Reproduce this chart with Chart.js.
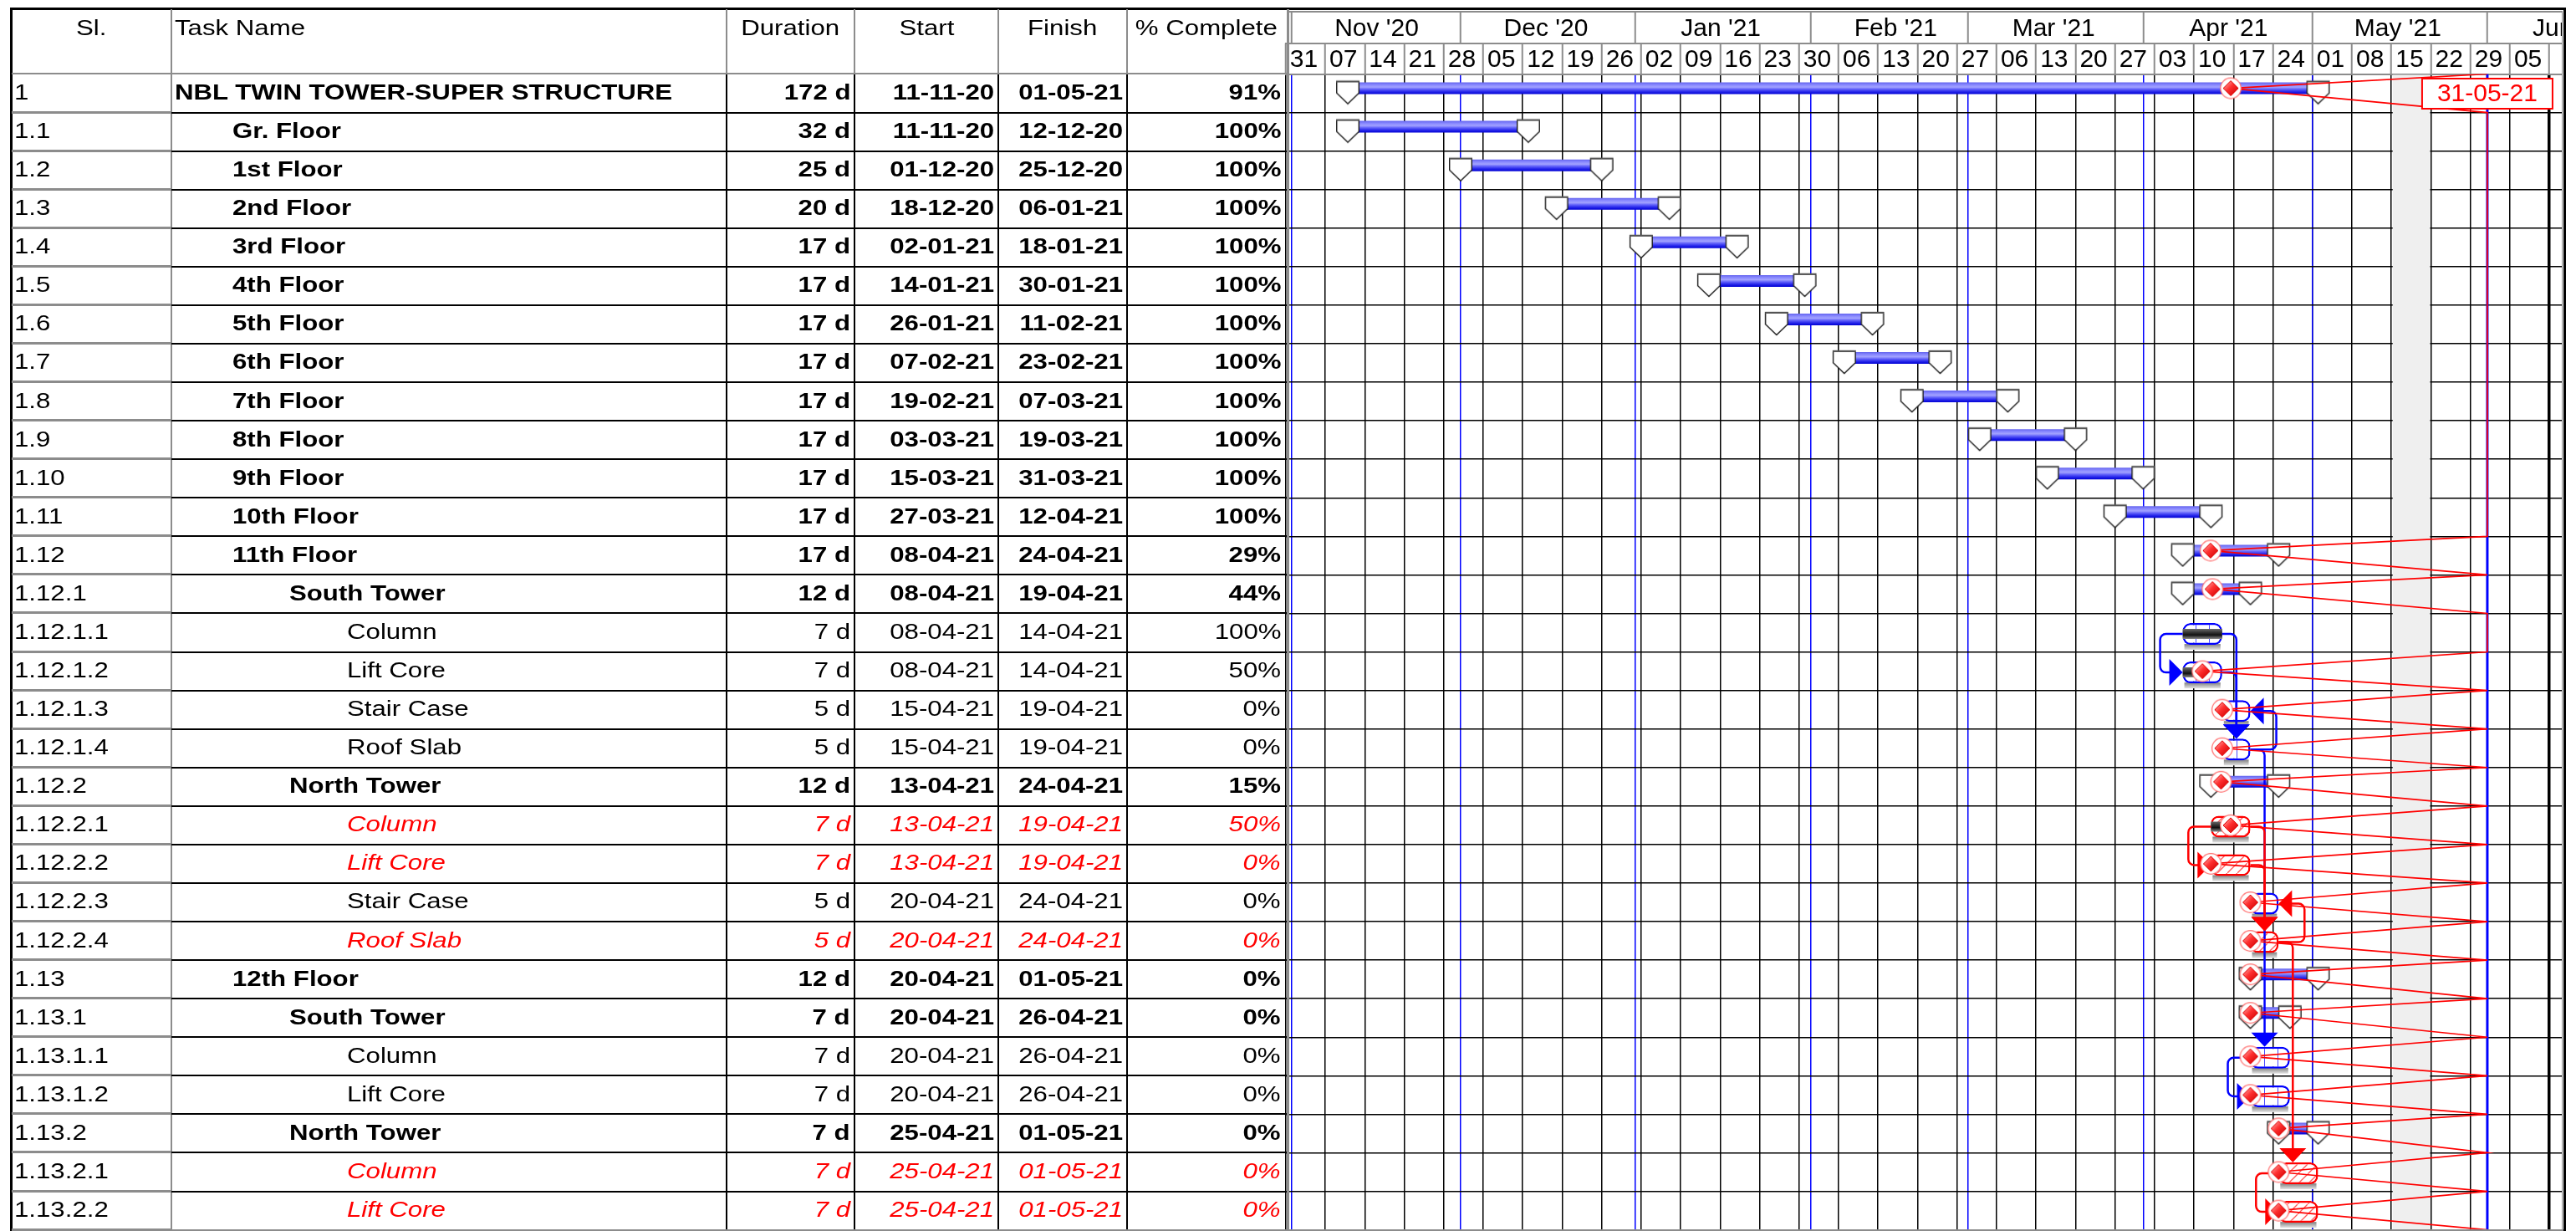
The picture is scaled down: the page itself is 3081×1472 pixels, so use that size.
<!DOCTYPE html>
<html>
<head>
<meta charset="utf-8">
<title>NBL Twin Tower - Super Structure</title>
<script src="https://cdn.jsdelivr.net/npm/chart.js@4.4.1/dist/chart.umd.min.js"></script>
<style>
  html, body { margin:0; padding:0; background:#fff; }
  body { width:3081px; height:1472px; position:relative; overflow:hidden; font-family:"Liberation Sans", Arial, sans-serif; }
  #gantt { position:absolute; left:0; top:0; }
</style>
</head>
<body>
<canvas id="gantt" width="3064" height="1472"></canvas>
<div id="sheet"></div>
<script>
// task sheet, as printed
var sl = ['1','1.1','1.2','1.3','1.4','1.5','1.6','1.7','1.8','1.9','1.10','1.11','1.12','1.12.1','1.12.1.1','1.12.1.2','1.12.1.3','1.12.1.4','1.12.2','1.12.2.1','1.12.2.2','1.12.2.3','1.12.2.4','1.13','1.13.1','1.13.1.1','1.13.1.2','1.13.2','1.13.2.1','1.13.2.2'];
var taskNames = ['NBL TWIN TOWER-SUPER STRUCTURE','Gr. Floor','1st Floor','2nd Floor','3rd Floor','4th Floor','5th Floor','6th Floor','7th Floor','8th Floor','9th Floor','10th Floor','11th Floor','South Tower','Column','Lift Core','Stair Case','Roof Slab','North Tower','Column','Lift Core','Stair Case','Roof Slab','12th Floor','South Tower','Column','Lift Core','North Tower','Column','Lift Core'];
var durations = ['172 d','32 d','25 d','20 d','17 d','17 d','17 d','17 d','17 d','17 d','17 d','17 d','17 d','12 d','7 d','7 d','5 d','5 d','12 d','7 d','7 d','5 d','5 d','12 d','7 d','7 d','7 d','7 d','7 d','7 d'];
var starts = ['11-11-20','11-11-20','01-12-20','18-12-20','02-01-21','14-01-21','26-01-21','07-02-21','19-02-21','03-03-21','15-03-21','27-03-21','08-04-21','08-04-21','08-04-21','08-04-21','15-04-21','15-04-21','13-04-21','13-04-21','13-04-21','20-04-21','20-04-21','20-04-21','20-04-21','20-04-21','20-04-21','25-04-21','25-04-21','25-04-21'];
var finishes = ['01-05-21','12-12-20','25-12-20','06-01-21','18-01-21','30-01-21','11-02-21','23-02-21','07-03-21','19-03-21','31-03-21','12-04-21','24-04-21','19-04-21','14-04-21','14-04-21','19-04-21','19-04-21','24-04-21','19-04-21','19-04-21','24-04-21','24-04-21','01-05-21','26-04-21','26-04-21','26-04-21','01-05-21','01-05-21','01-05-21'];
var pctComplete = [91,100,100,100,100,100,100,100,100,100,100,100,29,44,100,50,0,0,15,50,0,0,0,0,0,0,0,0,0,0];
var criticalTasks = ['1.12.2.1','1.12.2.2','1.12.2.4','1.13.2.1','1.13.2.2'];

// predecessor links: from, to, type
var links = [
  ['1.12.1.1','1.12.1.2','SS'],
  ['1.12.1.1','1.12.1.4','FS'],
  ['1.12.1.2','1.12.1.4','FS'],
  ['1.12.1.4','1.12.1.3','FF'],
  ['1.12.1.4','1.13.1.1','FS'],
  ['1.13.1.1','1.13.1.2','SS'],
  ['1.12.2.1','1.12.2.2','SS'],
  ['1.12.2.1','1.12.2.4','FS'],
  ['1.12.2.2','1.12.2.4','FS'],
  ['1.12.2.4','1.12.2.3','FF'],
  ['1.12.2.4','1.13.2.1','FS'],
  ['1.13.2.1','1.13.2.2','SS']
];

// timescale
var timelineStart = '31-10-20';
var weekLabels = ['31','07','14','21','28','05','12','19','26','02','09','16','23','30','06','13','20','27','06','13','20','27','03','10','17','24','01','08','15','22','29','05'];
var monthStarts = ['01-11-20','01-12-20','01-01-21','01-02-21','01-03-21','01-04-21','01-05-21','01-06-21'];
var monthLabels = ["Nov '20","Dec '20","Jan '21","Feb '21","Mar '21","Apr '21","May '21","Jun '21"];
var statusDate = '31-05-21';
var shadedWeek = ['15-05-21','22-05-21'];
var pageBreak = '12-06-21';
var viewDays = 226.2;

var ROW_TOP = 88.5, ROW_H = 46.07;
var SUM_SHIFT = -0.13, TASK_SHIFT = 0.033;
var N = sl.length;

function dayNo(s) {
  var p = s.split('-');
  var t0 = timelineStart.split('-');
  return (Date.UTC(2000 + +p[2], p[1] - 1, +p[0]) - Date.UTC(2000 + +t0[2], t0[1] - 1, +t0[0])) / 86400000;
}

var rows = sl.map(function (id, i) {
  var next = sl[i + 1] || '';
  var level = id.split('.').length - 1;
  return {
    i: i, id: id, level: level,
    // floors are rolled-up summaries, the rest are summaries when they have children
    summary: level <= 1 || next.indexOf(id + '.') === 0,
    critical: criticalTasks.indexOf(id) >= 0,
    s: dayNo(starts[i]),
    e: dayNo(finishes[i]) + 1,
    pct: pctComplete[i] / 100
  };
});
function rowOf(id) { return rows[sl.indexOf(id)]; }

var statusX = dayNo(statusDate) + 1;
var pageBreakX = dayNo(pageBreak);
var weekTicks = [];
for (var k = 0; k <= weekLabels.length; k++) weekTicks.push(k * 7);
var monthTicks = monthStarts.map(dayNo);

// ---------- sheet on the left ----------
var sheet = document.getElementById('sheet');
function put(css, text, origin) {
  var d = document.createElement('div');
  d.style.cssText = 'position:absolute;white-space:nowrap;' + css;
  if (text !== undefined) {
    var s = document.createElement('span');
    s.textContent = text;
    s.style.cssText = 'display:inline-block;transform:scaleX(1.2);transform-origin:' + (origin || 'left') + ' center';
    d.appendChild(s);
  }
  sheet.appendChild(d);
}
function rule(x, y, w, h, c) {
  put('left:' + x + 'px;top:' + y + 'px;width:' + w + 'px;height:' + h + 'px;background:' + c);
}

var colEdges = [14, 205, 869, 1022, 1194, 1348, 1538];
var heads = ['Sl.', 'Task Name', 'Duration', 'Start', 'Finish', '% Complete'];
heads.forEach(function (h, k) {
  var left = k === 1;
  put('left:' + (colEdges[k] + (left ? 4 : 0)) + 'px;top:11px;width:' + (colEdges[k + 1] - colEdges[k] - (left ? 4 : 0)) +
      'px;height:44px;line-height:44px;font-size:26px;color:#000;text-align:' + (left ? 'left' : 'center'), h, left ? 'left' : 'center');
});

var rights = [1017, 1189, 1343, 1532];
rows.forEach(function (r) {
  var base = 'top:' + (ROW_TOP + r.i * ROW_H - 1.5) + 'px;height:' + ROW_H + 'px;line-height:' + ROW_H + 'px;font-size:26px;';
  var look = (r.summary ? 'font-weight:bold;' : '') + (r.critical ? 'font-style:italic;color:#ff0000;' : 'color:#000;');
  put(base + 'left:17px;color:#000', r.id);
  put(base + look + 'left:' + (209 + r.level * 68.5) + 'px', taskNames[r.i]);
  [durations[r.i], starts[r.i], finishes[r.i], pctComplete[r.i] + '%'].forEach(function (v, k) {
    put(base + look + 'left:' + colEdges[k + 2] + 'px;width:' + (rights[k] - colEdges[k + 2]) + 'px;text-align:right', v, 'right');
  });
});

rule(12, 9, 3056.5, 2.5, '#000');
rule(12, 9, 2.5, 1463, '#000');
rule(3066, 9, 2.5, 1463, '#000');
rule(3063.5, 13.3, 1.5, 1459, '#8c8c8c');
rule(1539, 11, 2.5, 1461, '#8c8c8c');
rule(1541, 13.3, 1523, 2, '#8c8c8c');
rule(14, 87, 1525, 2, '#8c8c8c');
[205, 869, 1022, 1194, 1348].forEach(function (x, k) {
  rule(x - 1, 11, 2, 77, '#8c8c8c');
  if (k === 0) rule(x - 1, 89, 2, 1382, '#8c8c8c');
  else rule(x - 1, 89, 1.5, 1382, '#000');
});
for (var r = 1; r <= N; r++) {
  var y = Math.round(ROW_TOP + r * ROW_H);
  rule(14, y - 2, 191, 3, '#8c8c8c');
  rule(205, y - 1, 1334, 1.5, '#000');
}
rule(14, 1470, 3052, 2, '#8c8c8c');

// ---------- gantt ----------
var canvas = document.getElementById('gantt');
var cctx = canvas.getContext('2d');

function tile(w, h, draw) {
  var c = document.createElement('canvas');
  c.width = w; c.height = h;
  draw(c.getContext('2d'));
  return cctx.createPattern(c, 'repeat');
}
var stripeFill = tile(82, 8, function (g) {
  g.fillStyle = '#fff'; g.fillRect(0, 0, 82, 8);
  g.fillStyle = '#4a4aff';
  for (var k = 0; k < 5; k++) g.fillRect(Math.round(2 + k * 16.4), 0, 1, 8);
});
var hatchFill = tile(12, 12, function (g) {
  g.fillStyle = '#fff'; g.fillRect(0, 0, 12, 12);
  g.strokeStyle = '#ff5a5a'; g.lineWidth = 1.3;
  g.beginPath(); g.moveTo(-2, 14); g.lineTo(14, -2); g.stroke();
});

function pentagon() {
  var c = document.createElement('canvas');
  c.width = 30; c.height = 40;
  var g = c.getContext('2d');
  g.beginPath();
  g.moveTo(1.7, 11.8); g.lineTo(28.3, 11.8); g.lineTo(28.3, 25.8); g.lineTo(15, 38.5); g.lineTo(1.7, 25.8);
  g.closePath();
  g.fillStyle = '#fff'; g.fill();
  g.lineWidth = 1.4; g.strokeStyle = '#1a1a1a'; g.stroke();
  g.fillStyle = '#555'; g.fillRect(1.2, 10.8, 27.6, 2.2);
  return c;
}
function diamond() {
  var c = document.createElement('canvas');
  c.width = 28; c.height = 28;
  var g = c.getContext('2d');
  g.beginPath(); g.arc(14, 14, 12.3, 0, Math.PI * 2);
  g.fillStyle = '#fff'; g.fill();
  g.strokeStyle = '#ff6a6a'; g.lineWidth = 1.2; g.stroke();
  var gr = g.createLinearGradient(6, 6, 22, 22);
  gr.addColorStop(0, '#ffb4b4'); gr.addColorStop(0.45, '#ff3030'); gr.addColorStop(1, '#d00000');
  g.beginPath(); g.moveTo(14, 5); g.lineTo(23, 14); g.lineTo(14, 23); g.lineTo(5, 14); g.closePath();
  g.fillStyle = gr; g.fill();
  g.strokeStyle = '#e00000'; g.lineWidth = 1; g.stroke();
  return c;
}
var pentImg = pentagon(), diaImg = diamond();

function bandFill(c, axis, half, stops, fallback) {
  if (c.type !== 'data' || !c.raw) return fallback;
  var y = c.chart.scales[axis].getPixelForValue(c.raw.y);
  if (!isFinite(y)) return fallback;
  var g = c.chart.ctx.createLinearGradient(0, y - half, 0, y + half);
  stops.forEach(function (s) { g.addColorStop(s[0], s[1]); });
  return g;
}
function summaryFill(c) {
  return bandFill(c, 'ySum', 7, [[0, '#6464ee'], [0.22, '#8a8aff'], [0.4, '#a2a2ff'], [0.58, '#6262fa'], [0.8, '#2525ea'], [1, '#0000d4']], '#5a5aff');
}
function doneFill(c) {
  return bandFill(c, 'yTask', 6, [[0, '#6a6a6a'], [0.3, '#3c3c3c'], [0.6, '#111'], [1, '#8a8a8a']], '#333');
}

var sumRows = rows.filter(function (r) { return r.summary; });
var taskRows = rows.filter(function (r) { return !r.summary; });

var markerPts = [];
sumRows.forEach(function (r) { markerPts.push({ x: r.s, y: r.i }, { x: r.e, y: r.i }); });

var zigzag = [];
rows.forEach(function (r) {
  var px = r.pct >= 1 ? statusX : r.s + r.pct * (r.e - r.s);
  zigzag.push({ x: statusX, y: r.i - 0.5 }, { x: px, y: r.i + (r.summary ? SUM_SHIFT : 0) });
});
zigzag.push({ x: statusX, y: N - 0.5 });

function progressPts(list) {
  return list.filter(function (r) { return r.pct < 1; })
    .map(function (r) { return { x: r.s + r.pct * (r.e - r.s), y: r.i }; });
}

var shadePlugin = {
  id: 'shade',
  beforeDatasetsDraw: function (chart) {
    var a = chart.chartArea, x = chart.scales.x;
    var x0 = x.getPixelForValue(dayNo(shadedWeek[0])) + 1.5, x1 = x.getPixelForValue(dayNo(shadedWeek[1])) - 1;
    chart.ctx.save();
    chart.ctx.fillStyle = '#efefef';
    chart.ctx.fillRect(x0, a.top + 1, x1 - x0, a.bottom - a.top - 1);
    chart.ctx.restore();
  }
};

var shadowPlugin = {
  id: 'shadows',
  beforeDatasetDraw: function (chart, args) {
    if (chart.data.datasets[args.index].label !== 'Tasks') return;
    var ctx = chart.ctx;
    ctx.save();
    args.meta.data.forEach(function (bar) {
      var l = Math.min(bar.x, bar.base) + 2, rr = Math.max(bar.x, bar.base) - 2, t = bar.y + bar.height / 2;
      if (!isFinite(t)) return;
      var g = ctx.createLinearGradient(0, t, 0, t + 6);
      g.addColorStop(0, '#8c8c8c'); g.addColorStop(1, '#e4e4e4');
      ctx.fillStyle = g;
      ctx.fillRect(l, t - 1, rr - l, 7);
    });
    ctx.restore();
  }
};

function elbow(ctx, pts) {
  ctx.beginPath();
  ctx.moveTo(pts[0][0], pts[0][1]);
  for (var k = 1; k < pts.length - 1; k++) ctx.arcTo(pts[k][0], pts[k][1], pts[k + 1][0], pts[k + 1][1], 7);
  ctx.lineTo(pts[pts.length - 1][0], pts[pts.length - 1][1]);
  ctx.stroke();
}
function tri(ctx, a, b, c) {
  ctx.beginPath(); ctx.moveTo(a[0], a[1]); ctx.lineTo(b[0], b[1]); ctx.lineTo(c[0], c[1]); ctx.closePath(); ctx.fill();
}

var linkPlugin = {
  id: 'links',
  afterDatasetDraw: function (chart, args) {
    if (chart.data.datasets[args.index].label !== 'Markers') return;
    var ctx = chart.ctx, px = chart.scales.x, py = chart.scales.yTask;
    var list = links.slice().sort(function (a, b) { return rowOf(a[0]).critical - rowOf(b[0]).critical; });
    ctx.save();
    ctx.lineWidth = 2.5;
    ctx.lineJoin = 'round';
    list.forEach(function (l) {
      var f = rowOf(l[0]), t = rowOf(l[1]);
      var col = f.critical ? '#ff0000' : '#0000ff';
      ctx.strokeStyle = col; ctx.fillStyle = col;
      var y0 = py.getPixelForValue(f.i), y1 = py.getPixelForValue(t.i);
      var x0, xv, xt;
      if (l[2] === 'FS') {
        x0 = px.getPixelForValue(f.e); xv = x0 + 17;
        var tip = y1 - 13;
        elbow(ctx, [[x0, y0], [xv, y0], [xv, tip - 16]]);
        tri(ctx, [xv - 16, tip - 17], [xv + 16, tip - 17], [xv, tip]);
      } else if (l[2] === 'SS') {
        x0 = px.getPixelForValue(f.s); xv = x0 - 27; xt = px.getPixelForValue(t.s);
        elbow(ctx, [[x0, y0], [xv, y0], [xv, y1], [xt - 15, y1]]);
        tri(ctx, [xt - 16, y1 - 16], [xt - 16, y1 + 16], [xt, y1]);
      } else {
        x0 = px.getPixelForValue(f.e); xt = px.getPixelForValue(t.e); xv = Math.max(x0, xt) + 31;
        elbow(ctx, [[x0, y0], [xv, y0], [xv, y1], [xt + 15, y1]]);
        tri(ctx, [xt + 16, y1 - 16], [xt + 16, y1 + 16], [xt, y1]);
      }
    });
    ctx.restore();
  }
};

var statusLabel = {
  id: 'statusLabel',
  afterDatasetsDraw: function (chart) {
    var ctx = chart.ctx;
    var x = chart.scales.x.getPixelForValue(statusX), top = chart.scales.y.getPixelForValue(-0.5) + 5.5;
    ctx.save();
    ctx.fillStyle = '#fff';
    ctx.fillRect(x - 78, top, 156, 36);
    ctx.strokeStyle = '#ff0000'; ctx.lineWidth = 2;
    ctx.strokeRect(x - 78, top, 156, 36);
    ctx.fillStyle = '#ff0000';
    ctx.font = '30px "Liberation Sans", Arial, sans-serif';
    ctx.textAlign = 'center'; ctx.textBaseline = 'middle';
    ctx.fillText(statusDate, x, top + 19);
    ctx.restore();
  }
};

var FONT = '"Liberation Sans", Arial, sans-serif';

new Chart(canvas, {
  type: 'bar',
  data: {
    datasets: [
      {
        label: 'Summary', type: 'bar', indexAxis: 'y', xAxisID: 'x', yAxisID: 'ySum', grouped: false,
        barThickness: 14, borderWidth: 0, borderSkipped: false, inflateAmount: 0, order: 9,
        backgroundColor: summaryFill,
        data: sumRows.map(function (r) { return { x: [r.s, r.e], y: r.i }; })
      },
      {
        label: 'Tasks', type: 'bar', indexAxis: 'y', xAxisID: 'x', yAxisID: 'yTask', grouped: false,
        barThickness: 26, borderWidth: 2.5, borderRadius: 9, borderSkipped: false, inflateAmount: 0, order: 8,
        backgroundColor: function (c) { return c.raw && rows[c.raw.y].critical ? hatchFill : stripeFill; },
        borderColor: function (c) { return c.raw && rows[c.raw.y].critical ? '#ff0000' : '#0000ff'; },
        data: taskRows.map(function (r) { return { x: [r.s, r.e], y: r.i }; })
      },
      {
        label: 'Done', type: 'bar', indexAxis: 'y', xAxisID: 'x', yAxisID: 'yTask', grouped: false,
        barThickness: 12, borderWidth: 0, borderSkipped: false, inflateAmount: 0, order: 7,
        backgroundColor: doneFill,
        data: taskRows.filter(function (r) { return r.pct > 0; })
          .map(function (r) { return { x: [r.s, r.s + r.pct * (r.e - r.s)], y: r.i }; })
      },
      {
        label: 'Markers', type: 'line', showLine: false, xAxisID: 'x', yAxisID: 'ySum', order: 6,
        pointStyle: pentImg, pointRadius: 14, data: markerPts
      },
      {
        label: 'Status', type: 'line', xAxisID: 'x', yAxisID: 'y', order: 4,
        borderColor: '#0000ff', borderWidth: 3, pointRadius: 0,
        data: [{ x: statusX, y: -0.5 }, { x: statusX, y: N - 0.5 }]
      },
      {
        label: 'Progress line', type: 'line', xAxisID: 'x', yAxisID: 'y', order: 3,
        borderColor: '#ff0000', borderWidth: 1.7, pointRadius: 0, data: zigzag
      },
      {
        label: 'Progress', type: 'line', showLine: false, xAxisID: 'x', yAxisID: 'ySum', order: 1,
        pointStyle: diaImg, pointRadius: 13, data: progressPts(sumRows)
      },
      {
        label: 'Task progress', type: 'line', showLine: false, xAxisID: 'x', yAxisID: 'y', order: 1,
        pointStyle: diaImg, pointRadius: 13, data: progressPts(taskRows)
      }
    ]
  },
  options: {
    responsive: false,
    animation: false,
    devicePixelRatio: 1,
    events: [],
    layout: { autoPadding: false, padding: { left: 1537.8, right: 0, top: 14.3, bottom: 1.4 } },
    plugins: { legend: { display: false }, tooltip: { enabled: false } },
    scales: {
      x: {
        type: 'linear', axis: 'x', position: 'top', weight: 0, min: 0, max: viewDays, offset: false,
        afterBuildTicks: function (s) { s.ticks = weekTicks.map(function (v) { return { value: v }; }); },
        afterFit: function (s) { s.height = 36.8; },
        ticks: {
          autoSkip: false, maxRotation: 0, minRotation: 0, align: 'start', labelOffset: 5, padding: -38.3,
          color: '#000', font: { family: FONT, size: 30 },
          callback: function (v, i) { return weekLabels[i] || ''; }
        },
        grid: {
          offset: false, color: '#000',
          lineWidth: function (c) { return c.tick && c.tick.value === pageBreakX ? 3.5 : 1.5; },
          drawTicks: true, tickLength: 36.8, tickColor: '#8c8c8c', tickWidth: 2
        },
        border: { display: true, color: '#8c8c8c', width: 2 }
      },
      xMonth: {
        type: 'linear', axis: 'x', position: 'top', weight: 1, min: 0, max: viewDays, offset: false,
        afterBuildTicks: function (s) { s.ticks = monthTicks.map(function (v) { return { value: v }; }); },
        afterFit: function (s) { s.height = 37.4; },
        ticks: {
          autoSkip: false, maxRotation: 0, minRotation: 0, align: 'center', labelOffset: 102, padding: -38.5,
          color: '#000', font: { family: FONT, size: 30 },
          callback: function (v, i) { return monthLabels[i]; }
        },
        grid: {
          offset: false, color: '#0000ff', lineWidth: 1.5,
          drawTicks: true, tickLength: 37.4, tickColor: '#8c8c8c', tickWidth: 2
        },
        border: { display: true, color: '#8c8c8c', width: 2 }
      },
      y: {
        type: 'linear', axis: 'y', position: 'left', reverse: true, min: -0.5, max: N - 0.5, offset: false,
        afterBuildTicks: function (s) {
          var t = [];
          for (var k = 0; k <= N; k++) t.push({ value: k - 0.5 });
          s.ticks = t;
        },
        ticks: { display: false },
        grid: { offset: false, color: '#000', lineWidth: 1.5, drawTicks: false },
        border: { display: false }
      },
      ySum: {
        type: 'linear', axis: 'y', display: false, reverse: true, offset: false,
        min: -0.5 - SUM_SHIFT, max: N - 0.5 - SUM_SHIFT
      },
      yTask: {
        type: 'linear', axis: 'y', display: false, reverse: true, offset: false,
        min: -0.5 - TASK_SHIFT, max: N - 0.5 - TASK_SHIFT
      }
    }
  },
  plugins: [shadePlugin, shadowPlugin, linkPlugin, statusLabel]
});
</script>
</body>
</html>
